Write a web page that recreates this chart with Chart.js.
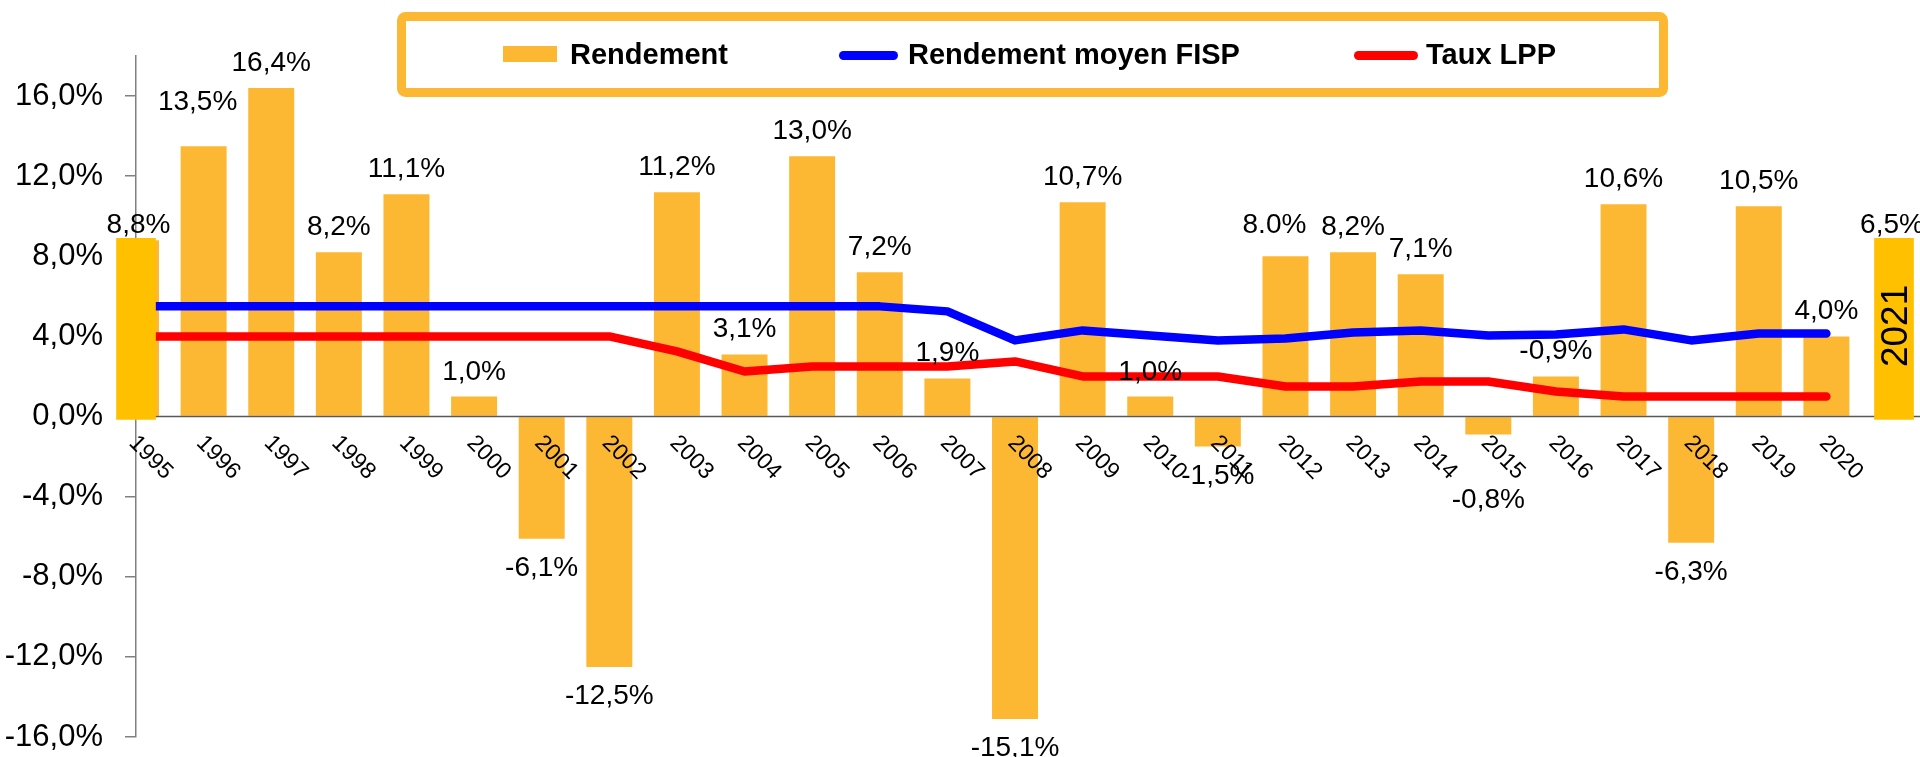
<!DOCTYPE html>
<html>
<head>
<meta charset="utf-8">
<script src="https://cdn.jsdelivr.net/npm/chart.js@4.4.1/dist/chart.umd.min.js"></script>
<style>
html,body{margin:0;padding:0;background:#fff;overflow:hidden}
#wrap{width:1920px;height:757px;position:relative}
canvas{display:block}
</style>
</head>
<body>
<div id="wrap"><canvas id="c" width="1920" height="757"></canvas></div>
<script>
// ---------------- data ----------------
const years = ['1995','1996','1997','1998','1999','2000','2001','2002','2003','2004','2005','2006','2007','2008','2009','2010','2011','2012','2013','2014','2015','2016','2017','2018','2019','2020','2021'];

const rendement = [8.8,13.5,16.4,8.2,11.1,1.0,-6.1,-12.5,11.2,3.1,13.0,7.2,1.9,-15.1,10.7,1.0,-1.5,8.0,8.2,7.1,-0.9,2.0,10.6,-6.3,10.5,4.0,null];

const rendementLabels = ['8,8%','13,5%','16,4%','8,2%','11,1%','1,0%','-6,1%','-12,5%','11,2%','3,1%','13,0%','7,2%','1,9%','-15,1%','10,7%','1,0%','-1,5%','8.0%','8,2%','7,1%','-0,8%','-0,9%','10,6%','-6,3%','10,5%','4,0%','6,5%'];

const rendementMoyenFISP = [5.5,5.5,5.5,5.5,5.5,5.5,5.5,5.5,5.5,5.5,5.5,5.5,5.25,3.8,4.3,4.05,3.8,3.9,4.2,4.3,4.05,4.1,4.35,3.8,4.15,4.15,null];

const tauxLPP = [4.0,4.0,4.0,4.0,4.0,4.0,4.0,4.0,3.25,2.25,2.5,2.5,2.5,2.75,2.0,2.0,2.0,1.5,1.5,1.75,1.75,1.25,1.0,1.0,1.0,1.0,null];

// highlighted year boxes (first and last year)
const encadre = [[-0.15,8.9],null,null,null,null,null,null,null,null,null,null,null,null,null,null,null,null,null,null,null,null,null,null,null,null,null,[-0.15,8.9]];

const yTickValues = [-16,-12,-8,-4,0,4,8,12,16];
const yTickLabels = ['-16,0%','-12,0%','-8,0%','-4,0%','0,0%','4,0%','8,0%','12,0%','16,0%'];

// ---------------- styles ----------------
const ORANGE = 'rgb(253,184,51)';
const GOLD = '#FFC000';
const BLUE = '#0000FF';
const RED = '#FF0000';
const FONT = "'Liberation Sans', Arial, sans-serif";

const decor = {
  id: 'decor',
  afterDatasetDraw(chart, args) {
    if (args.index !== 0) return;
    const ctx = chart.ctx, y = chart.scales.y.getPixelForValue(0);
    ctx.save();
    ctx.strokeStyle = '#595959';
    ctx.lineWidth = 1.5;
    ctx.beginPath();
    ctx.moveTo(chart.chartArea.left, y);
    ctx.lineTo(chart.width, y);
    ctx.stroke();
    ctx.restore();
  },
  afterDraw(chart, args, opts) {
    const ctx = chart.ctx;
    const xs = chart.scales.x, ys = chart.scales.y;
    const y0 = ys.getPixelForValue(0);
    const barMeta = chart.getDatasetMeta(0);
    const boxMeta = chart.getDatasetMeta(3);
    ctx.save();

    // x labels (rotated)
    ctx.fillStyle = '#000';
    ctx.font = '23px ' + FONT;
    ctx.textAlign = 'left';
    ctx.textBaseline = 'alphabetic';
    for (let i = 0; i < years.length - 1; i++) {
      const x = xs.getPixelForValue(i);
      ctx.save();
      ctx.translate(x - 8, y0 + 27.5);
      ctx.rotate(Math.PI / 4);
      ctx.fillText(years[i], 0, 0);
      ctx.restore();
    }

    // value labels
    ctx.font = '28px ' + FONT;
    ctx.textAlign = 'center';
    const cap = 20;
    for (let i = 0; i < years.length; i++) {
      const txt = rendementLabels[i];
      if (!txt) continue;
      let x, by;
      if (encadre[i]) {
        const el = boxMeta.data[i];
        x = el.x + (i === 0 ? 2.5 : -2);
        by = el.y - 5;
      } else {
        const el = barMeta.data[i];
        x = el.x;
        if (rendement[i] >= 0) by = el.y - 17;
        else by = el.y + 17 + cap;
      }
      const n = opts.nudges[years[i]];
      if (n) { x += n[0]; by += n[1]; }
      ctx.fillText(txt, x, by);
    }

    // year text inside the last highlight box
    const last = years.length - 1;
    const bel = boxMeta.data[last];
    if (bel) {
      ctx.save();
      ctx.font = '37px ' + FONT;
      ctx.textAlign = 'center';
      ctx.textBaseline = 'middle';
      ctx.translate(bel.x + 3, (bel.y + bel.base) / 2 - 3);
      ctx.rotate(-Math.PI / 2);
      ctx.fillText(years[last], 0, 0);
      ctx.restore();
    }

    // legend
    const L = opts.legend;
    ctx.strokeStyle = ORANGE;
    ctx.lineWidth = 9;
    ctx.beginPath();
    ctx.roundRect(L.box[0], L.box[1], L.box[2], L.box[3], 4);
    ctx.stroke();
    ctx.font = 'bold 29px ' + FONT;
    ctx.textAlign = 'left';
    ctx.textBaseline = 'alphabetic';
    L.items.forEach(it => {
      const ds = chart.data.datasets[it.ds];
      if (ds.type === 'bar') {
        ctx.fillStyle = ds.backgroundColor;
        ctx.fillRect(it.mx, 46, it.mw, 16);
      } else {
        ctx.strokeStyle = ds.borderColor;
        ctx.lineWidth = 9;
        ctx.lineCap = 'round';
        ctx.beginPath();
        ctx.moveTo(it.mx + 4.5, 55.5);
        ctx.lineTo(it.mx + it.mw - 4.5, 55.5);
        ctx.stroke();
      }
      ctx.fillStyle = '#000';
      ctx.fillText(ds.label, it.tx, 63.5);
    });
    ctx.restore();
  }
};

new Chart(document.getElementById('c'), {
  data: {
    labels: years,
    datasets: [
      { type: 'bar', label: 'Rendement', data: rendement, backgroundColor: ORANGE,
        barPercentage: 0.68, categoryPercentage: 1, grouped: false, order: 3 },
      { type: 'line', label: 'Rendement moyen FISP', data: rendementMoyenFISP, borderColor: BLUE,
        borderWidth: 8.5, pointRadius: 0, tension: 0, fill: false,
        borderCapStyle: 'round', borderJoinStyle: 'round', order: 2 },
      { type: 'line', label: 'Taux LPP', data: tauxLPP, borderColor: RED,
        borderWidth: 8.5, pointRadius: 0, tension: 0, fill: false,
        borderCapStyle: 'round', borderJoinStyle: 'round', order: 1 },
      { type: 'bar', label: 'encadre', data: encadre, backgroundColor: GOLD,
        barThickness: 39, grouped: false, clip: false, order: 0 }
    ]
  },
  options: {
    responsive: false,
    animation: false,
    devicePixelRatio: 1,
    layout: { padding: { left: 0, right: 26, top: 56, bottom: 20 } },
    plugins: {
      legend: { display: false },
      tooltip: { enabled: false },
      decor: {
        nudges: { '1996': [-6, -19], '2012': [-11, -6], '2015': [0, 36] },
        legend: {
          box: [401.5, 16.5, 1262, 76],
          items: [
            { ds: 0, mx: 503, mw: 54, tx: 570 },
            { ds: 1, mx: 839, mw: 59, tx: 908 },
            { ds: 2, mx: 1354, mw: 64, tx: 1426 }
          ]
        }
      }
    },
    scales: {
      x: { type: 'category', display: false, offset: false },
      y: {
        position: 'left', min: -16, max: 18,
        afterFit(s) { s.width = 136; s.paddingTop = 0; s.paddingBottom = 0; },
        afterBuildTicks(s) { s.ticks = yTickValues.map(v => ({ value: v })); },
        ticks: {
          callback: (v, i) => yTickLabels[i],
          font: { family: FONT, size: 31 },
          color: '#000',
          padding: 22
        },
        grid: { drawOnChartArea: false, drawTicks: true, tickLength: 11, color: '#808080', lineWidth: 1.5 },
        border: { display: true, color: '#808080', width: 1.5 }
      }
    }
  },
  plugins: [decor]
});
</script>
</body>
</html>
